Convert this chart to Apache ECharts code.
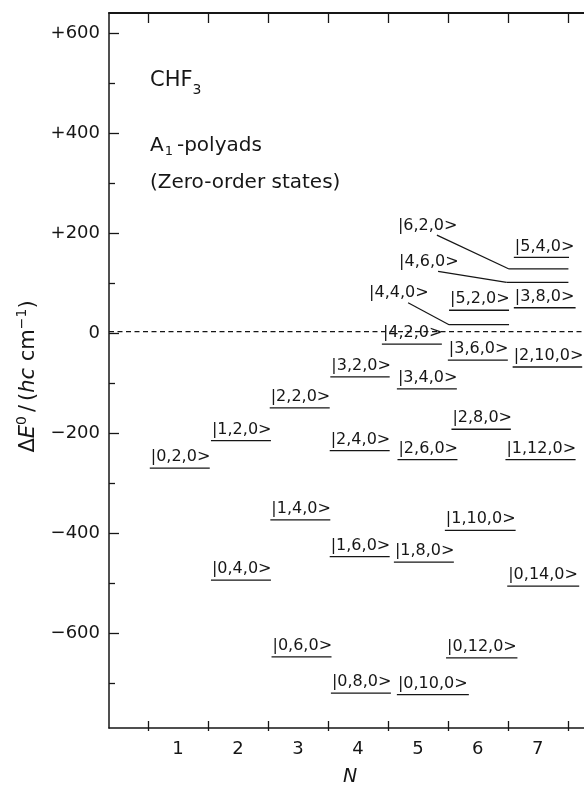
<!DOCTYPE html>
<html>
<head>
<meta charset="utf-8">
<script src="https://cdn.jsdelivr.net/npm/echarts@6.0.0/dist/echarts.min.js"></script>
<style>
html,body{margin:0;padding:0;background:#ffffff;overflow:hidden;}
#chart{width:584px;height:792px;}
</style>
</head>
<body>
<div id="chart"></div>
<script>
// ---------------- data ----------------
// zero-order states |v1,v2,v3> of the A1 polyads of CHF3
const stateNames = ['|0,2,0>',
  '|1,2,0>', '|0,4,0>',
  '|2,2,0>', '|1,4,0>', '|0,6,0>',
  '|3,2,0>', '|2,4,0>', '|1,6,0>', '|0,8,0>',
  '|4,2,0>', '|3,4,0>', '|2,6,0>', '|1,8,0>', '|0,10,0>',
  '|5,2,0>', '|4,4,0>', '|3,6,0>', '|2,8,0>', '|1,10,0>', '|0,12,0>',
  '|6,2,0>', '|5,4,0>', '|4,6,0>', '|3,8,0>', '|2,10,0>', '|1,12,0>', '|0,14,0>'];
// polyad number N of each state
const stateN = [1, 2, 2, 3, 3, 3, 4, 4, 4, 4, 5, 5, 5, 5, 5, 6, 6, 6, 6, 6, 6, 7, 7, 7, 7, 7, 7, 7];
// zero-order energy  ΔE0 / (hc cm-1)
const stateE = [-274,
  -219, -499,
  -153, -378, -653,
  -91, -239, -452, -726,
  -25, -115, -257, -463, -729,
  43, 14, -57, -196, -399, -655,
  126, 149, 99, 48, -71, -257, -511];
// left / right end of each level bar, in units of N
const levelStart = [0.53,
  1.55, 1.55,
  2.53, 2.54, 2.56,
  3.54, 3.53, 3.53, 3.55,
  4.40, 4.65, 4.66, 4.60, 4.65,
  5.52, 5.52, 5.50, 5.56, 5.45, 5.47,
  6.52, 6.60, 6.48, 6.60, 6.58, 6.46, 6.49];
const levelEnd = [1.53,
  2.55, 2.55,
  3.53, 3.54, 3.56,
  4.53, 4.53, 4.53, 4.55,
  5.40, 5.65, 5.66, 5.60, 5.85,
  6.52, 6.52, 6.50, 6.55, 6.63, 6.66,
  7.51, 7.52, 7.51, 7.63, 7.74, 7.63, 7.69];
// labels moved away from their level (joined by a leader line): N position and energy of label baseline
const calloutN = [null, null, null, null, null, null, null, null, null, null, null, null, null, null, null,
  null, 4.17, null, null, null, null, 4.65, null, 4.67, null, null, null, null];
const calloutE = [null, null, null, null, null, null, null, null, null, null, null, null, null, null, null,
  null, 66, null, null, null, null, 202, null, 129, null, null, null, null];

// axis ticks
const xTickLabels = ['1', '2', '3', '4', '5', '6', '7'];
const yTickValues = [-600, -400, -200, 0, 200, 400, 600];
const yTickLabels = ['\u2212600', '\u2212400', '\u2212200', '0', '+200', '+400', '+600'];
const yMinorValues = [-700, -500, -300, -100, 100, 300, 500];
const xBoundaries = [0.5, 1.5, 2.5, 3.5, 4.5, 5.5, 6.5, 7.5];

// ---------------- layout ----------------
const W = 584, H = 792;
const GRID_LEFT = 109, GRID_RIGHT = 0, GRID_TOP = 13, GRID_BOTTOM = 61;
const X_MIN = -0.15, X_MAX = 7.77;
const Y_MIN = -796, Y_MAX = 640;
const INK = '#161616';
const FONT = '"DejaVu Sans", "Liberation Sans", sans-serif';

const plotW = W - GRID_LEFT - GRID_RIGHT;
const plotH = H - GRID_TOP - GRID_BOTTOM;
function xPx(v) { return GRID_LEFT + (v - X_MIN) / (X_MAX - X_MIN) * plotW; }
function yPx(v) { return GRID_TOP + (Y_MAX - v) / (Y_MAX - Y_MIN) * plotH; }

// helper grids carry the tick marks / labels so that every tick sits on the main scale
const yMajTop = yPx(yTickValues[yTickValues.length - 1]);
const yMajBot = yPx(yTickValues[0]);
const yMinTop = yPx(yMinorValues[yMinorValues.length - 1]);
const yMinBot = yPx(yMinorValues[0]);
const xBndL = xPx(xBoundaries[0]);
const xBndR = xPx(xBoundaries[xBoundaries.length - 1]);
const xLabL = xPx(1);
const xLabR = xPx(xTickLabels.length);

const levelData = stateNames.map((s, i) => [levelStart[i], levelEnd[i], stateE[i], stateN[i]]);

function renderLevel(params, api) {
  const i = params.dataIndex;
  const a = api.coord([api.value(0), api.value(2)]);
  const b = api.coord([api.value(1), api.value(2)]);
  const children = [{
    type: 'line',
    shape: { x1: a[0], y1: a[1], x2: b[0], y2: b[1] },
    style: { stroke: INK, lineWidth: 1.3 }
  }];
  const textStyle = {
    font: '16px ' + FONT, fill: INK, align: 'left', verticalAlign: 'middle',
    backgroundColor: '#ffffff', padding: [0, 1, 0, 1]
  };
  if (calloutN[i] == null) {
    children.push({ type: 'text', style: Object.assign({ text: stateNames[i], x: a[0], y: a[1] - 11 }, textStyle) });
  } else {
    const c = api.coord([calloutN[i], calloutE[i]]);
    children.push({
      type: 'line',
      shape: { x1: c[0] + 40, y1: c[1] + 4, x2: a[0], y2: a[1] },
      style: { stroke: INK, lineWidth: 1.2 }
    });
    children.push({ type: 'text', style: Object.assign({ text: stateNames[i], x: c[0], y: c[1] - 5.5 }, textStyle) });
  }
  return { type: 'group', children: children };
}

const hiddenX = (g) => ({ type: 'value', gridIndex: g, show: false, min: 0, max: 1 });
const hiddenY = (g) => ({ type: 'value', gridIndex: g, show: false, min: 0, max: 1 });
const axisLineStyle = { color: INK, width: 1.5 };

const option = {
  animation: false,
  backgroundColor: '#ffffff',
  title: [
    {
      text: '{m|CHF}{s|3}', left: 150, top: 65, padding: 0,
      textStyle: {
        fontWeight: 'normal',
        rich: {
          m: { fontFamily: FONT, fontSize: 21, lineHeight: 32, color: INK, fontWeight: 'normal' },
          s: { fontFamily: FONT, fontSize: 14, lineHeight: 14, verticalAlign: 'bottom', color: INK, fontWeight: 'normal' }
        }
      }
    },
    {
      text: '{m|A}{s|1}{m|-polyads}', left: 150, top: 134, padding: 0,
      textStyle: {
        fontWeight: 'normal',
        rich: {
          m: { fontFamily: FONT, fontSize: 20, lineHeight: 24, color: INK, fontWeight: 'normal' },
          s: { fontFamily: FONT, fontSize: 13, lineHeight: 13, verticalAlign: 'bottom', color: INK, fontWeight: 'normal', padding: [0, 4, 0, 1] }
        }
      }
    },
    {
      text: '(Zero-order states)', left: 150, top: 171, padding: 0,
      textStyle: { fontFamily: FONT, fontSize: 20, lineHeight: 24, color: INK, fontWeight: 'normal' }
    }
  ],
  grid: [
    { left: GRID_LEFT, right: GRID_RIGHT, top: GRID_TOP, bottom: GRID_BOTTOM },           // 0 main
    { left: xBndL, right: W - xBndR, top: GRID_TOP, bottom: GRID_BOTTOM },               // 1 x boundary ticks
    { left: GRID_LEFT, right: GRID_RIGHT, top: yMajTop, bottom: H - yMajBot },            // 2 y major ticks + labels
    { left: GRID_LEFT, right: GRID_RIGHT, top: yMinTop, bottom: H - yMinBot },            // 3 y minor ticks
    { left: xLabL, right: W - xLabR, top: GRID_TOP, bottom: GRID_BOTTOM }                 // 4 x labels
  ],
  xAxis: [
    {
      type: 'value', gridIndex: 0, position: 'bottom', min: X_MIN, max: X_MAX,
      axisLine: { show: true, onZero: false, lineStyle: axisLineStyle },
      axisTick: { show: false }, axisLabel: { show: false }, splitLine: { show: false },
      name: 'N', nameLocation: 'middle', nameGap: 40,
      nameTextStyle: { fontFamily: FONT, fontSize: 19, fontStyle: 'italic', color: INK, padding: [0, 0, 0, 7] }
    },
    {
      type: 'value', gridIndex: 0, position: 'top', min: X_MIN, max: X_MAX,
      axisLine: { show: true, onZero: false, lineStyle: { color: INK, width: 2 } },
      axisTick: { show: false }, axisLabel: { show: false }, splitLine: { show: false }
    },
    {
      type: 'value', gridIndex: 1, position: 'bottom', min: 0, max: xBoundaries.length - 1, interval: 1,
      axisLine: { show: false, onZero: false },
      axisTick: { show: true, inside: true, length: 10, lineStyle: { color: INK, width: 1.3 } },
      axisLabel: { show: false }, splitLine: { show: false }
    },
    {
      type: 'value', gridIndex: 1, position: 'top', min: 0, max: xBoundaries.length - 1, interval: 1,
      axisLine: { show: false, onZero: false },
      axisTick: { show: true, inside: true, length: 10, lineStyle: { color: INK, width: 1.3 } },
      axisLabel: { show: false }, splitLine: { show: false }
    },
    hiddenX(2),
    hiddenX(3),
    {
      type: 'value', gridIndex: 4, position: 'bottom', min: 1, max: xTickLabels.length, interval: 1,
      axisLine: { show: false, onZero: false },
      axisTick: { show: false }, splitLine: { show: false },
      axisLabel: {
        show: true, margin: 9, fontFamily: FONT, fontSize: 18, color: INK,
        formatter: (v) => {
          const k = Math.round(v);
          return Math.abs(v - k) < 1e-6 && k >= 1 && k <= xTickLabels.length ? xTickLabels[k - 1] : '';
        }
      }
    }
  ],
  yAxis: [
    {
      type: 'value', gridIndex: 0, min: Y_MIN, max: Y_MAX,
      axisLine: { show: true, onZero: false, lineStyle: axisLineStyle },
      axisTick: { show: false }, axisLabel: { show: false }, splitLine: { show: false },
      name: '{n|\u0394}{i|E}{s|0}{p|/}{n|(}{i|hc}{n| cm}{s|\u22121}{n|)}',
      nameLocation: 'middle', nameGap: 67,
      nameTextStyle: {
        color: INK,
        padding: [0, 12, 0, 0],
        rich: {
          n: { fontFamily: FONT, fontSize: 21, lineHeight: 27, color: INK },
          i: { fontFamily: FONT, fontSize: 21, lineHeight: 27, fontStyle: 'italic', color: INK },
          p: { fontFamily: FONT, fontSize: 21, lineHeight: 27, color: INK, padding: [0, 4, 0, 4] },
          s: { fontFamily: FONT, fontSize: 14, lineHeight: 14, verticalAlign: 'top', color: INK }
        }
      }
    },
    hiddenY(1),
    {
      type: 'value', gridIndex: 2, position: 'left', min: 0, max: yTickValues.length - 1, interval: 1,
      axisLine: { show: false, onZero: false },
      axisTick: { show: true, inside: true, length: 10, lineStyle: { color: INK, width: 1.3 } },
      splitLine: { show: false },
      axisLabel: {
        show: true, margin: 9, fontFamily: FONT, fontSize: 18, color: INK,
        formatter: (v) => {
          const k = Math.round(v);
          return Math.abs(v - k) < 1e-6 && k >= 0 && k < yTickLabels.length ? yTickLabels[k] : '';
        }
      }
    },
    {
      type: 'value', gridIndex: 3, position: 'left', min: 0, max: yMinorValues.length - 1, interval: 1,
      axisLine: { show: false, onZero: false },
      axisTick: { show: true, inside: true, length: 6, lineStyle: { color: INK, width: 1.3 } },
      axisLabel: { show: false }, splitLine: { show: false }
    },
    hiddenY(4)
  ],
  series: [
    {
      type: 'line', xAxisIndex: 0, yAxisIndex: 0, silent: true,
      data: [[X_MIN, 0], [X_MAX, 0]],
      showSymbol: false, symbol: 'none',
      lineStyle: { color: INK, width: 1.2, type: [5, 3.5] }
    },
    {
      type: 'custom', xAxisIndex: 0, yAxisIndex: 0, silent: true, clip: false,
      data: levelData,
      encode: { x: [0, 1], y: 2 },
      renderItem: renderLevel
    }
  ]
};

const chart = echarts.init(document.getElementById('chart'), null, { renderer: 'canvas', width: W, height: H });
chart.setOption(option);
</script>
</body>
</html>
